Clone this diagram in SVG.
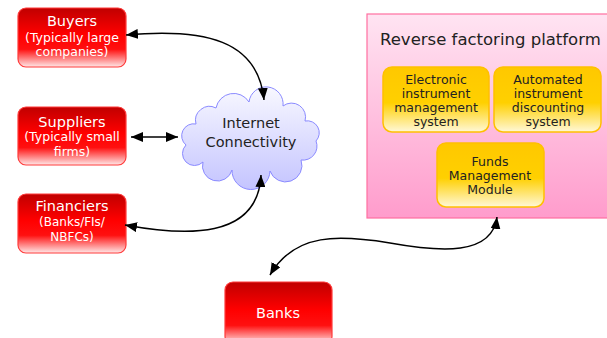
<svg xmlns="http://www.w3.org/2000/svg" width="607" height="338" viewBox="0 0 607 338">
<defs>
<linearGradient id="gRed" x1="0" y1="0" x2="0" y2="1">
<stop offset="0" stop-color="#c00000"/>
<stop offset="0.45" stop-color="#ff0000"/>
<stop offset="0.7" stop-color="#ff1010"/>
<stop offset="1" stop-color="#ffe8e8"/>
</linearGradient>
<linearGradient id="gYel" x1="0" y1="0" x2="0" y2="1">
<stop offset="0" stop-color="#ffc800"/>
<stop offset="0.55" stop-color="#ffd000"/>
<stop offset="1" stop-color="#fff8d8"/>
</linearGradient>
<linearGradient id="gPink" x1="0" y1="0" x2="0" y2="1">
<stop offset="0" stop-color="#ffe4f2"/>
<stop offset="1" stop-color="#ff9ccc"/>
</linearGradient>
<linearGradient id="gCloud" x1="0" y1="0" x2="0" y2="1">
<stop offset="0" stop-color="#f8f8ff"/>
<stop offset="1" stop-color="#c4c4ff"/>
</linearGradient>
<marker id="arr" viewBox="0 0 12 10" refX="12" refY="5" markerWidth="12" markerHeight="10" markerUnits="userSpaceOnUse" orient="auto-start-reverse">
<path d="M0,0 L12,5 L0,10 Z" fill="#000"/>
</marker>
<style>
.red{fill:url(#gRed);stroke:#ff3a3a;stroke-width:1.2}
.yel{fill:url(#gYel);stroke:#ffc000;stroke-width:1.5}
.wt{fill:#fff;font-family:"DejaVu Sans",Verdana,sans-serif;text-anchor:middle}
.dk{fill:#222;font-family:"DejaVu Sans",Verdana,sans-serif;text-anchor:middle}
.c{fill:none;stroke:#000;stroke-width:1.5;marker-start:url(#arr);marker-end:url(#arr)}
</style>
</defs>
<rect width="607" height="338" fill="#fff"/>

<g id="platform">
<rect x="367" y="14" width="246" height="204" fill="url(#gPink)" stroke="#ff6fa0" stroke-width="1.2"/>
<text x="380" y="45" font-family="DejaVu Sans,Verdana,sans-serif" font-size="16.5" fill="#222">Reverse factoring platform</text>
</g>
<g id="electronic">
<rect class="yel" x="383" y="67" width="106" height="65" rx="9"/>
<text class="dk" font-size="12.5"><tspan x="436" y="84">Electronic</tspan><tspan x="436" y="98">instrument</tspan><tspan x="436" y="112">management</tspan><tspan x="436" y="126">system</tspan></text>
</g>
<g id="automated">
<rect class="yel" x="494" y="67" width="107" height="65" rx="9"/>
<text class="dk" font-size="12.5"><tspan x="548" y="84">Automated</tspan><tspan x="548" y="98">instrument</tspan><tspan x="548" y="112">discounting</tspan><tspan x="548" y="126">system</tspan></text>
</g>
<g id="funds">
<rect class="yel" x="437" y="143" width="107" height="64" rx="9"/>
<text class="dk" font-size="12.5"><tspan x="490" y="166">Funds</tspan><tspan x="490" y="180">Management</tspan><tspan x="490" y="194">Module</tspan></text>
</g>

<g id="buyers">
<rect class="red" x="18" y="8" width="108" height="59" rx="8"/>
<text class="wt" font-size="14.5" x="72" y="26">Buyers</text>
<text class="wt" font-size="12.5"><tspan x="72" y="42">(Typically large</tspan><tspan x="72" y="56">companies)</tspan></text>
</g>
<g id="suppliers">
<rect class="red" x="18" y="107" width="108" height="58" rx="8"/>
<text class="wt" font-size="14.5" x="72" y="127">Suppliers</text>
<text class="wt" font-size="12.5"><tspan x="72" y="141">(Typically small</tspan><tspan x="72" y="156">firms)</tspan></text>
</g>
<g id="financiers">
<rect class="red" x="18" y="194" width="108" height="59" rx="8"/>
<text class="wt" font-size="14.5" x="72" y="211">Financiers</text>
<text class="wt" font-size="12"><tspan x="72" y="226">(Banks/FIs/</tspan><tspan x="72" y="241">NBFCs)</tspan></text>
</g>
<g id="banks">
<rect class="red" x="225" y="282" width="107" height="62" rx="8"/>
<text class="wt" font-size="14.5" x="278" y="318">Banks</text>
</g>

<g id="internet">
<path d="M196 124 A14 14 0 0 1 216 108 A18 18 0 0 1 249 102 A16 16 0 0 1 283 106 A14 14 0 0 1 305 121 A12 12 0 0 1 316 141 A14 14 0 0 1 301 160 A16 16 0 0 1 270 171 A18 18 0 0 1 232 170 A14 14 0 0 1 203 162 A12 12 0 0 1 186 145 A12 12 0 0 1 196 124 Z" fill="url(#gCloud)" stroke="#8a8aff" stroke-width="1"/>
<text class="dk" font-size="14.5"><tspan x="251" y="128">Internet</tspan><tspan x="251" y="147">Connectivity</tspan></text>
</g>

<g id="connectors">
<path class="c" d="M126 35 C205 28 258 40 264 100"/>
<path class="c" d="M131 137 L178 137"/>
<path class="c" d="M125 225 C185 236 258 240 261 175"/>
<path class="c" d="M270 275 C295 232 340 235 390 243 C440 252 492 256 497 217"/>
</g>
</svg>
